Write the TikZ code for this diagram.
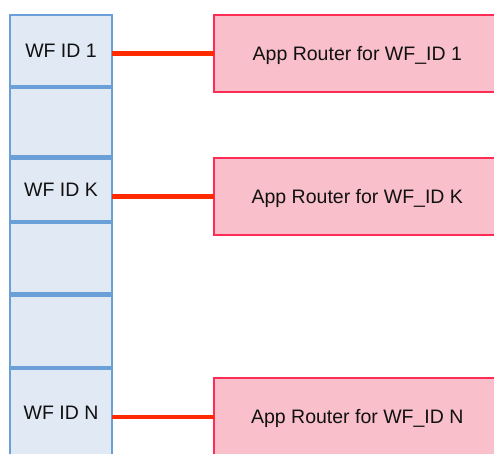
\documentclass[tikz,border=0pt]{standalone}
\usepackage{fontspec}
\setmainfont{Liberation Sans}
\definecolor{cellfill}{HTML}{E1E9F4}
\definecolor{celldraw}{HTML}{6A9FD8}
\definecolor{rbfill}{HTML}{F9BFCA}
\definecolor{rbdraw}{HTML}{FF2D55}
\definecolor{linkred}{HTML}{FF2A00}
\definecolor{txt}{HTML}{111111}
\begin{document}
\begin{tikzpicture}[x=1pt,y=-1pt,
  every node/.style={font=\fontsize{19.5pt}{22pt}\selectfont, text=txt, inner sep=0pt, outer sep=0pt, text height=14pt, text depth=0pt},
  cell/.style={draw=celldraw, fill=cellfill, line width=2.2pt, minimum width=102pt},
  router/.style={draw=rbdraw, fill=rbfill, line width=2.2pt, minimum width=286pt, minimum height=77pt},
  link/.style={draw=linkred, line width=4.6pt}]
\useasboundingbox (0,0) rectangle (494,453);
\clip (0,0) rectangle (494,453);
% column of cells
\node[cell, minimum height=71pt]   (c1) at (61,50.5)   {WF ID 1};
\node[cell, minimum height=68.5pt] (c2) at (61,122.25) {};
\node[cell, minimum height=62.5pt] (c3) at (61,189.75) {WF ID K};
\node[cell, minimum height=70.5pt] (c4) at (61,258.25) {};
\node[cell, minimum height=71.5pt] (c5) at (61,331.25) {};
\node[cell, minimum height=87pt]   (c6) at (61,412.5)  {WF ID N};
% routers
\node[router] (r1) at (357.3,53.5)  {App Router for WF\_ID 1};
\node[router] (r2) at (357.3,196.2) {App Router for WF\_ID K};
\node[router] (r3) at (357.3,416.8) {App Router for WF\_ID N};
% connectors
\draw[link] (r1.west) -- (r1.west -| c1.east);
\draw[link] (r2.west) -- (r2.west -| c3.east);
\draw[link] (r3.west) -- (r3.west -| c6.east);
\end{tikzpicture}
\end{document}
